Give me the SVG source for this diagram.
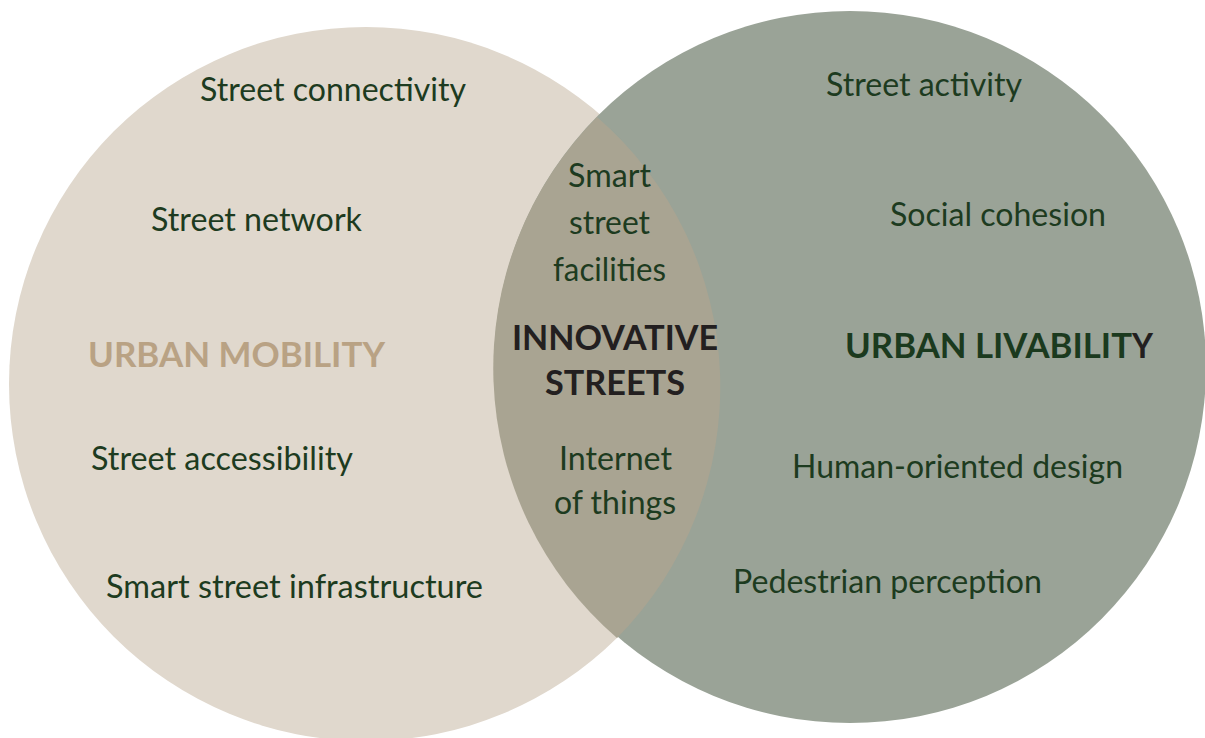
<svg xmlns="http://www.w3.org/2000/svg" width="1205" height="738" viewBox="0 0 1205 738">
  <style>
    .item { font-family: Lato, "Open Sans", "Liberation Sans", sans-serif; font-size: 32px; fill: #1d3b20; }
    .title { font-family: Lato, "Open Sans", "Liberation Sans", sans-serif; font-size: 34px; font-weight: bold; }
  </style>
  <rect width="1205" height="738" fill="#ffffff"/>

  <!-- Urban mobility set -->
  <g id="mobility">
    <circle cx="366" cy="384" r="357" fill="#e0d8cd"/>
  </g>

  <!-- Urban livability set -->
  <g id="livability">
    <circle cx="850" cy="367" r="356" fill="#9aa397"/>
  </g>

  <!-- Overlap of the two sets -->
  <g id="innovative">
    <path d="M597,117 A357,357 0 0 1 617,638 A356,356 0 0 1 597,117 Z" fill="#a9a492"/>
  </g>

  <g id="connectors"></g>

  <g id="mobility-labels">
    <text class="item" x="200" y="101" textLength="266" lengthAdjust="spacingAndGlyphs">Street connectivity</text>
    <text class="item" x="151" y="231" textLength="211" lengthAdjust="spacingAndGlyphs">Street network</text>
    <text class="title" x="88" y="367" fill="#b9a284" textLength="297" lengthAdjust="spacingAndGlyphs">URBAN MOBILITY</text>
    <text class="item" x="91" y="470" textLength="262" lengthAdjust="spacingAndGlyphs">Street accessibility</text>
    <text class="item" x="106" y="598" textLength="377" lengthAdjust="spacingAndGlyphs">Smart street infrastructure</text>
  </g>

  <g id="innovative-labels">
    <text class="item" x="568" y="187" textLength="83" lengthAdjust="spacingAndGlyphs">Smart</text>
    <text class="item" x="569" y="234" textLength="81" lengthAdjust="spacingAndGlyphs">street</text>
    <text class="item" x="553" y="281" textLength="113" lengthAdjust="spacingAndGlyphs">facilities</text>
    <text class="title" x="512" y="350" fill="#231f20" textLength="206" lengthAdjust="spacingAndGlyphs">INNOVATIVE</text>
    <text class="title" x="545" y="395" fill="#231f20" textLength="140" lengthAdjust="spacingAndGlyphs">STREETS</text>
    <text class="item" x="559" y="470" textLength="113" lengthAdjust="spacingAndGlyphs">Internet</text>
    <text class="item" x="554" y="514" textLength="122" lengthAdjust="spacingAndGlyphs">of things</text>
  </g>

  <g id="livability-labels">
    <text class="item" x="826" y="96" textLength="196" lengthAdjust="spacingAndGlyphs">Street activity</text>
    <text class="item" x="890" y="226" textLength="216" lengthAdjust="spacingAndGlyphs">Social cohesion</text>
    <text class="title" x="845" y="358" fill="#1b3a1e" textLength="287" lengthAdjust="spacingAndGlyphs">URBAN LIVABILIT</text>
    <text class="title" x="1132" y="358" fill="#231f20" textLength="21" lengthAdjust="spacingAndGlyphs">Y</text>
    <text class="item" x="792" y="478" textLength="331" lengthAdjust="spacingAndGlyphs">Human-oriented design</text>
    <text class="item" x="733" y="593" textLength="309" lengthAdjust="spacingAndGlyphs">Pedestrian perception</text>
  </g>
</svg>
